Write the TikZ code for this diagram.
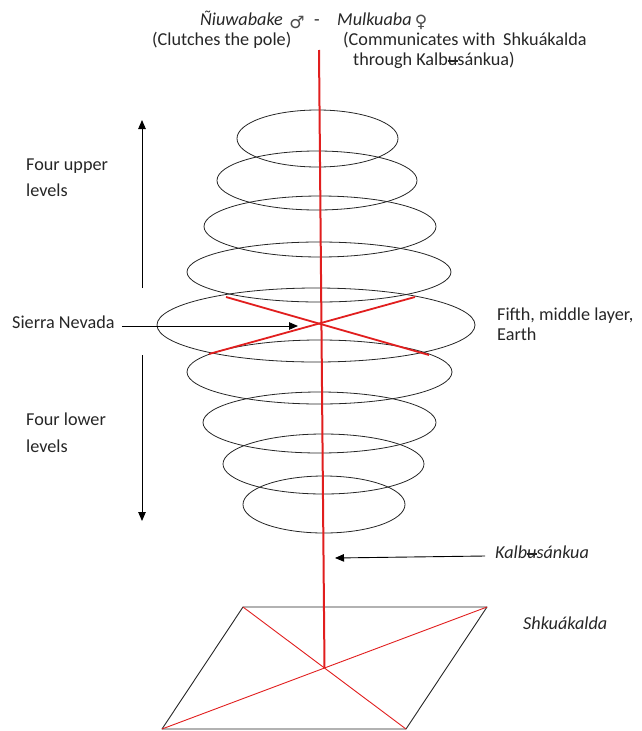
\documentclass[tikz,border=0pt]{standalone}
\usepackage{fontspec}
\setmainfont{Carlito}
\newfontfamily\symf{DejaVu Sans}
\usetikzlibrary{shapes.geometric,arrows.meta}
\definecolor{polered}{RGB}{225,30,30}
\definecolor{txt}{RGB}{38,38,38}
\newcommand\ubarchar{\ooalign{u\cr\hidewidth\rule[0.42ex]{0.55em}{0.07em}\hidewidth\cr}}
\begin{document}
\begin{tikzpicture}[x=1pt,y=-1pt,
  lvl/.style={draw=black!85, ellipse, line width=0.8pt, inner sep=0pt},
  lbl/.style={font=\fontsize{18.2}{22}\selectfont, text=txt, inner sep=0pt, anchor=mid west},
  ilbl/.style={lbl, font=\fontsize{18.2}{22}\selectfont\itshape},
  symb/.style={font=\symf\fontsize{17}{20}\selectfont, text=black!70, inner sep=0pt},
  arr/.style={-{Triangle[length=9pt,width=7.5pt]}, line width=0.9pt, black},
  polestyle/.style={polered, line width=2pt},
  xline/.style={polered, line width=1.8pt},
  thinred/.style={polered, line width=0.9pt},
  plane/.style={black!85, line width=0.9pt, line join=round}]
\useasboundingbox (0,0) rectangle (641,731);

% levels
\node[lvl, minimum width=161pt, minimum height=57pt] (e1) at (317.5,138.5) {};
\node[lvl, minimum width=200pt, minimum height=59pt] (e2) at (317,180.5) {};
\node[lvl, minimum width=232pt, minimum height=61pt] (e3) at (320,226.5) {};
\node[lvl, minimum width=264pt, minimum height=60pt] (e4) at (319,272) {};
\node[lvl, minimum width=318pt, minimum height=74pt] (e5) at (316,325) {};
\node[lvl, minimum width=265pt, minimum height=64pt] (e6) at (319.5,372) {};
\node[lvl, minimum width=233pt, minimum height=61pt] (e7) at (319.5,422.5) {};
\node[lvl, minimum width=201pt, minimum height=60pt] (e8) at (323.5,464) {};
\node[lvl, minimum width=162pt, minimum height=57pt] (e9) at (324,504.5) {};

% red cross in middle layer
\coordinate (xul) at (226,297);
\coordinate (xlr) at (429,355);
\coordinate (xur) at (415,297);
\coordinate (xll) at (209,354);
\draw[xline] (xul) -- (xlr);
\draw[xline] (xur) -- (xll);

% Shkuakalda plane
\coordinate (ptl) at (243,607);
\coordinate (ptr) at (487,607);
\coordinate (pbr) at (406,729);
\coordinate (pbl) at (162,729);
\draw[plane] (ptl) -- (ptr) -- (pbr) -- (pbl) -- cycle;
\draw[thinred] (ptl) -- (pbr);
\draw[thinred] (pbl) -- (ptr);
\coordinate (pc) at (intersection of ptl--pbr and pbl--ptr);

% pole
\coordinate (ptop) at (319,50);
\draw[polestyle] (ptop) -- (pc);

% top labels
\node[ilbl] (niu) at (200,23) {Ñiuwabake};
\node[symb] (male) at (297,22) {♂};
\node[lbl, anchor=center] (dash) at (317,23) {-};
\node[ilbl] (mulk) at (337,23) {Mulkuaba};
\node[symb] (female) at (421,22) {♀};
\node[lbl] (clutch) at (152,43) {(Clutches the pole)};
\node[lbl] (comm1) at (343,43) {(Communicates with\hspace{0.2em} Shkuákalda};
\node[lbl] (comm2) at (353,63) {through Kalb\ubarchar sánkua)};

% left labels and arrows
\node[lbl] (up1) at (26,168) {Four upper};
\node[lbl] (up2) at (26,194) {levels};
\node[lbl] (lo1) at (26,423) {Four lower};
\node[lbl] (lo2) at (26,450) {levels};
\coordinate (upbot) at (142,288);
\coordinate (uptop) at (142,120);
\draw[arr] (upbot) -- (uptop);
\coordinate (lotop) at (142,355);
\coordinate (lobot) at (142,521);
\draw[arr] (lotop) -- (lobot);

\node[lbl] (sierra) at (12,326) {Sierra Nevada};
\coordinate (sierratip) at (298,326);
\draw[arr] ([xshift=7pt]sierra.mid east) -- (sierratip);

% right labels
\node[lbl] (fifth1) at (497,318) {Fifth, middle layer,};
\node[lbl] (fifth2) at (497,338) {Earth};
\node[ilbl] (kalb) at (495,556) {Kalb\ubarchar sánkua};
\coordinate (kalbtip) at (335,558);
\draw[arr] ([xshift=-10pt]kalb.mid west) -- (kalbtip);
\node[ilbl] (shku) at (523,627) {Shkuákalda};
\end{tikzpicture}
\end{document}
